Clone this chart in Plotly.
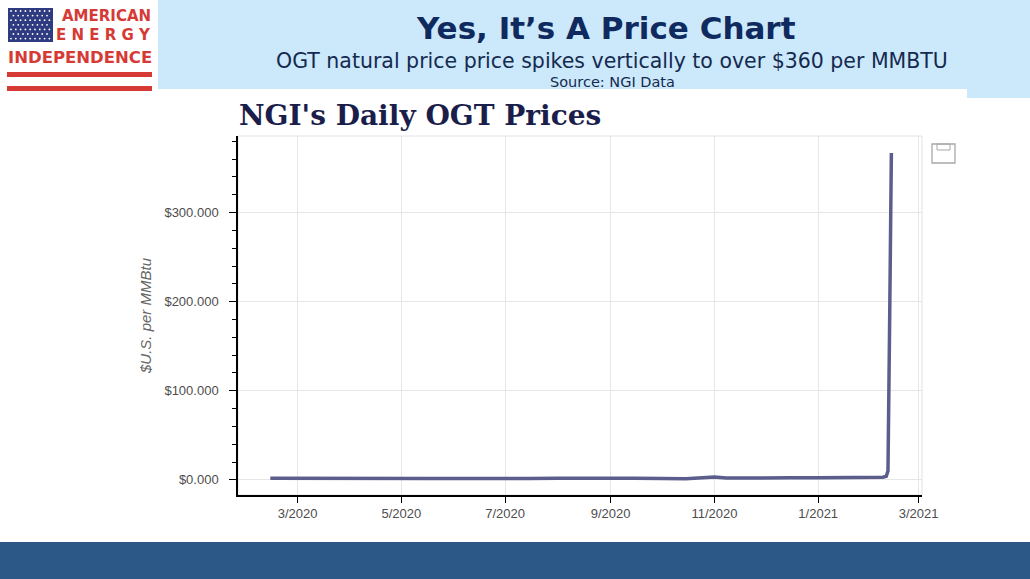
import plotly.graph_objects as go

W, H = 1030, 579

# OGT daily price, $/MMBtu
dates = [
    "2020-02-14", "2020-03-01", "2020-03-15", "2020-04-01", "2020-04-15",
    "2020-05-01", "2020-05-15", "2020-06-01", "2020-06-15", "2020-07-01",
    "2020-07-15", "2020-08-01", "2020-08-15", "2020-09-01", "2020-09-15",
    "2020-10-01", "2020-10-15", "2020-10-25", "2020-11-01", "2020-11-08",
    "2020-11-15", "2020-12-01", "2020-12-15", "2021-01-01", "2021-01-15",
    "2021-02-01", "2021-02-08", "2021-02-10", "2021-02-11", "2021-02-12",
    "2021-02-13",
]
prices = [
    1.8, 1.6, 1.4, 1.2, 1.1,
    1.6, 1.5, 1.5, 1.3, 1.5,
    1.6, 1.7, 2.0, 2.2, 1.9,
    1.6, 1.3, 2.4, 3.2, 2.0,
    2.2, 2.4, 2.3, 2.3, 2.4,
    2.7, 3.0, 4.0, 10.0, 180.0,
    367.0,
]

x_tickvals = ["2020-03-01", "2020-05-01", "2020-07-01", "2020-09-01",
              "2020-11-01", "2021-01-01", "2021-03-01"]
x_ticktext = ["3/2020", "5/2020", "7/2020", "9/2020", "11/2020", "1/2021", "3/2021"]
y_tickvals = [0, 100, 200, 300]
y_ticktext = ["$0.000", "$100.000", "$200.000", "$300.000"]


def px(x):
    return x / W


def py(y):
    return 1 - y / H


fig = go.Figure()

fig.add_trace(go.Scatter(
    x=dates, y=prices, mode="lines",
    line=dict(color="#5b5e8c", width=3.5),
    showlegend=False, hoverinfo="skip",
))

shapes = []
# header band
shapes.append(dict(type="rect", xref="paper", yref="paper", layer="below",
                   x0=px(158), x1=px(1030), y0=py(89), y1=py(0),
                   fillcolor="#cce8fb", line=dict(width=0)))
shapes.append(dict(type="rect", xref="paper", yref="paper", layer="below",
                   x0=px(967), x1=px(1030), y0=py(98), y1=py(88),
                   fillcolor="#cce8fb", line=dict(width=0)))
# footer band
shapes.append(dict(type="rect", xref="paper", yref="paper", layer="below",
                   x0=0, x1=1, y0=0, y1=py(542),
                   fillcolor="#2b5886", line=dict(width=0)))

# logo: flag
shapes.append(dict(type="rect", xref="paper", yref="paper",
                   x0=px(8), x1=px(53), y0=py(42), y1=py(8),
                   fillcolor="#2e3b80", line=dict(width=0)))
for r in range(7):
    n = 9 if r % 2 == 0 else 8
    off = 0 if r % 2 == 0 else 2.4
    for c in range(n):
        cx = 11 + off + c * 4.8
        cy = 11 + r * 4.6
        shapes.append(dict(type="circle", xref="paper", yref="paper",
                           x0=px(cx - 0.9), x1=px(cx + 0.9),
                           y0=py(cy + 0.9), y1=py(cy - 0.9),
                           fillcolor="white", line=dict(width=0)))
# logo: stripes
shapes.append(dict(type="rect", xref="paper", yref="paper",
                   x0=px(7), x1=px(152), y0=py(77), y1=py(72),
                   fillcolor="#d63a35", line=dict(width=0)))
shapes.append(dict(type="rect", xref="paper", yref="paper",
                   x0=px(7), x1=px(152), y0=py(91), y1=py(86),
                   fillcolor="#d63a35", line=dict(width=0)))

# light plot frame (top / right)
shapes.append(dict(type="rect", xref="x domain", yref="y domain", layer="below",
                   x0=0, x1=1, y0=0, y1=1,
                   line=dict(color="#e2e2e2", width=1)))

# save icon
shapes.append(dict(type="rect", xref="paper", yref="paper",
                   x0=px(932), x1=px(955), y0=py(163), y1=py(144),
                   line=dict(color="#a8a8a8", width=1.3)))
shapes.append(dict(type="rect", xref="paper", yref="paper",
                   x0=px(937), x1=px(950), y0=py(150), y1=py(144),
                   line=dict(color="#a8a8a8", width=1)))

annotations = [
    dict(text="<b>AMERICAN</b>", x=px(153), y=py(16), xanchor="right", yanchor="middle",
         font=dict(family="DejaVu Sans", size=15, color="#d63a35")),
    dict(text="<b>E N E R G Y</b>", x=px(153), y=py(35), xanchor="right", yanchor="middle",
         font=dict(family="DejaVu Sans", size=15, color="#d63a35")),
    dict(text="<b>INDEPENDENCE</b>", x=px(80), y=py(57), xanchor="center", yanchor="middle",
         font=dict(family="DejaVu Sans", size=16.5, color="#d63a35")),
    dict(text="<b>Yes, It\u2019s A Price Chart</b>", x=px(606), y=py(28),
         xanchor="center", yanchor="middle",
         font=dict(family="DejaVu Sans", size=31, color="#0f2a5e")),
    dict(text="OGT natural price price spikes vertically to over $360 per MMBTU",
         x=px(612), y=py(61), xanchor="center", yanchor="middle",
         font=dict(family="DejaVu Sans", size=20.5, color="#152a4f")),
    dict(text="Source: NGI Data", x=px(612), y=py(82), xanchor="center", yanchor="middle",
         font=dict(family="DejaVu Sans", size=14.5, color="#152a4f")),
    dict(text="<b>NGI's Daily OGT Prices</b>", x=px(237), y=py(116),
         xanchor="left", yanchor="middle",
         font=dict(family="DejaVu Serif", size=28, color="#1b1e4b")),
    dict(text="<i>$U.S. per MMBtu</i>", x=px(145), y=py(316), textangle=-90,
         xanchor="center", yanchor="middle",
         font=dict(family="Liberation Sans", size=15, color="#666666")),
]
for a in annotations:
    a.update(xref="paper", yref="paper", showarrow=False)

fig.update_layout(
    width=W, height=H,
    margin=dict(l=0, r=0, t=0, b=0),
    paper_bgcolor="white", plot_bgcolor="white",
    shapes=shapes, annotations=annotations,
    showlegend=False,
    xaxis=dict(
        domain=[px(238), px(922)],
        type="date",
        range=["2020-01-26", "2021-03-03"],
        tickmode="array", tickvals=x_tickvals, ticktext=x_ticktext,
        ticks="outside", ticklen=6, tickcolor="black", tickwidth=1.3,
        showline=True, linecolor="black", linewidth=1.5,
        showgrid=True, gridcolor="#e6e6e6", gridwidth=1,
        zeroline=False, automargin=False,
        tickfont=dict(family="Liberation Sans", size=13, color="#4d4d4d"),
    ),
    yaxis=dict(
        domain=[py(495), py(136)],
        range=[-17, 386],
        tickmode="array", tickvals=y_tickvals, ticktext=y_ticktext,
        ticks="outside", ticklen=7, tickcolor="black", tickwidth=1.3,
        ticklabelstandoff=8,
        minor=dict(dtick=20, tick0=0, ticks="outside", ticklen=4,
                   tickcolor="black", showgrid=False),
        showline=True, linecolor="black", linewidth=1.5,
        showgrid=True, gridcolor="#e6e6e6", gridwidth=1,
        zeroline=False, automargin=False,
        tickfont=dict(family="Liberation Sans", size=13, color="#4d4d4d"),
    ),
)

fig.write_html("out.html", config={"displayModeBar": False},
               post_script="document.body.style.margin='0';")
